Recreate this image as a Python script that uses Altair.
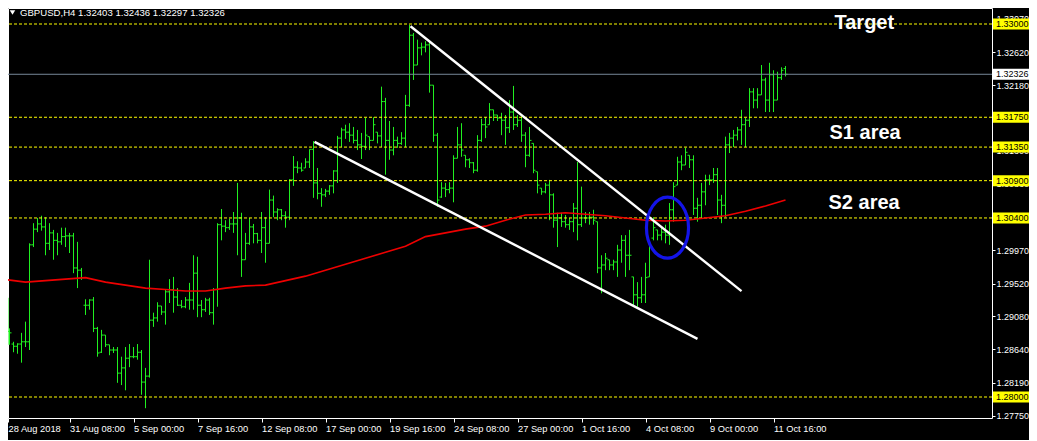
import json
import altair as alt
import pandas as pd

# ---------------- data (GBPUSD, H4 bars) ----------------
opens = [1.2879, 1.2888, 1.2871, 1.2868, 1.2871, 1.2874, 1.2874, 1.3004, 1.3025, 1.3032,
         1.3028, 1.3006, 1.3020, 1.3010, 1.3008, 1.3015, 1.3016, 1.3016, 1.2973, 1.2970,
         1.2923, 1.2923, 1.2930, 1.2892, 1.2860, 1.2883, 1.2870, 1.2863, 1.2863, 1.2832,
         1.2839, 1.2852, 1.2854, 1.2854, 1.2860, 1.2820, 1.2828, 1.2903, 1.2906, 1.2922,
         1.2914, 1.2941, 1.2944, 1.2934, 1.2923, 1.2921, 1.2930, 1.2930, 1.2966, 1.2923,
         1.2917, 1.2930, 1.2913, 1.2944, 1.3031, 1.3029, 1.3027, 1.3032, 1.3032, 1.3040,
         1.2984, 1.3006, 1.3028, 1.3019, 1.3010, 1.3027, 1.3006, 1.3064, 1.3048, 1.3051,
         1.3043, 1.3041, 1.3091, 1.3108, 1.3107, 1.3107, 1.3115, 1.3132, 1.3087, 1.3073,
         1.3071, 1.3076, 1.3083, 1.3103, 1.3147, 1.3158, 1.3155, 1.3151, 1.3144, 1.3138,
         1.3136, 1.3149, 1.3144, 1.3155, 1.3150, 1.3196, 1.3144, 1.3131, 1.3144, 1.3140,
         1.3147, 1.3191, 1.3285, 1.3245, 1.3268, 1.3269, 1.3272, 1.3218, 1.3151, 1.3068,
         1.3080, 1.3078, 1.3080, 1.3120, 1.3138, 1.3124, 1.3118, 1.3114, 1.3104, 1.3144,
         1.3165, 1.3165, 1.3185, 1.3178, 1.3174, 1.3171, 1.3161, 1.3182, 1.3165, 1.3171,
         1.3151, 1.3124, 1.3140, 1.3102, 1.3080, 1.3075, 1.3084, 1.3071, 1.3037, 1.3040,
         1.3035, 1.3031, 1.3035, 1.3053, 1.3031, 1.3040, 1.3040, 1.3041, 1.3035, 1.2973,
         1.2977, 1.2984, 1.2977, 1.2981, 1.2997, 1.3010, 1.2990, 1.2961, 1.2937, 1.2933,
         1.2937, 1.2961, 1.3013, 1.3024, 1.3017, 1.3021, 1.3017, 1.3051, 1.3084, 1.3115,
         1.3111, 1.3124, 1.3118, 1.3053, 1.3057, 1.3075, 1.3091, 1.3091, 1.3098, 1.3064,
         1.3057, 1.3138, 1.3147, 1.3151, 1.3158, 1.3165, 1.3171, 1.3209, 1.3198, 1.3205,
         1.3225, 1.3198, 1.3232, 1.3198, 1.3228, 1.32403]
highs = [1.2933, 1.2892, 1.2874, 1.2872, 1.2886, 1.2901, 1.3006, 1.3033, 1.3040, 1.3043,
         1.3041, 1.3033, 1.3024, 1.3020, 1.3027, 1.3027, 1.3020, 1.3020, 1.3008, 1.2973,
         1.2931, 1.2931, 1.2934, 1.2894, 1.2890, 1.2883, 1.2870, 1.2867, 1.2867, 1.2854,
         1.2867, 1.2871, 1.2867, 1.2871, 1.2863, 1.2839, 1.2984, 1.2913, 1.2927, 1.2922,
         1.2944, 1.2958, 1.2961, 1.2946, 1.2930, 1.2934, 1.2953, 1.2990, 1.2988, 1.2930,
         1.2933, 1.2933, 1.2946, 1.3033, 1.3052, 1.3037, 1.3039, 1.3048, 1.3087, 1.3047,
         1.3020, 1.3040, 1.3032, 1.3020, 1.3048, 1.3041, 1.3078, 1.3070, 1.3053, 1.3052,
         1.3049, 1.3092, 1.3123, 1.3116, 1.3114, 1.3120, 1.3132, 1.3143, 1.3107, 1.3080,
         1.3079, 1.3084, 1.3104, 1.3150, 1.3161, 1.3165, 1.3167, 1.3162, 1.3158, 1.3154,
         1.3174, 1.3149, 1.3175, 1.3155, 1.3216, 1.3201, 1.3170, 1.3162, 1.3149, 1.3155,
         1.3205, 1.3299, 1.3288, 1.3279, 1.3275, 1.3277, 1.3276, 1.3218, 1.3154, 1.3088,
         1.3087, 1.3088, 1.3124, 1.3162, 1.3167, 1.3124, 1.3120, 1.3115, 1.3151, 1.3173,
         1.3175, 1.3194, 1.3185, 1.3178, 1.3181, 1.3178, 1.3198, 1.3217, 1.3178, 1.3178,
         1.3155, 1.3162, 1.3140, 1.3102, 1.3080, 1.3087, 1.3091, 1.3073, 1.3047, 1.3047,
         1.3044, 1.3040, 1.3060, 1.3115, 1.3082, 1.3048, 1.3048, 1.3051, 1.3035, 1.2990,
         1.2993, 1.2984, 1.2984, 1.3004, 1.3017, 1.3017, 1.3024, 1.2961, 1.2954, 1.2961,
         1.2980, 1.3004, 1.3041, 1.3024, 1.3028, 1.3031, 1.3060, 1.3088, 1.3122, 1.3124,
         1.3134, 1.3124, 1.3124, 1.3067, 1.3087, 1.3098, 1.3098, 1.3107, 1.3107, 1.3071,
         1.3149, 1.3154, 1.3158, 1.3162, 1.3185, 1.3174, 1.3214, 1.3214, 1.3214, 1.3245,
         1.3228, 1.3248, 1.3238, 1.3236, 1.3242, 1.32436]
lows = [1.2870, 1.2870, 1.2860, 1.2858, 1.2846, 1.2867, 1.2863, 1.3001, 1.3021, 1.3023,
        1.2990, 1.2997, 1.2984, 1.2990, 1.3004, 1.3001, 1.2993, 1.2966, 1.2946, 1.2957,
        1.2910, 1.2917, 1.2887, 1.2854, 1.2859, 1.2867, 1.2856, 1.2859, 1.2819, 1.2816,
        1.2809, 1.2840, 1.2852, 1.2850, 1.2803, 1.2785, 1.2826, 1.2894, 1.2901, 1.2910,
        1.2897, 1.2926, 1.2913, 1.2922, 1.2919, 1.2919, 1.2917, 1.2917, 1.2907, 1.2907,
        1.2914, 1.2910, 1.2897, 1.2921, 1.3010, 1.3021, 1.3024, 1.3020, 1.2990, 1.2961,
        1.2984, 1.3004, 1.3006, 1.3006, 1.2993, 1.2980, 1.3006, 1.3041, 1.3037, 1.3037,
        1.3027, 1.3037, 1.3083, 1.3100, 1.3102, 1.3107, 1.3107, 1.3067, 1.3065, 1.3055,
        1.3068, 1.3071, 1.3073, 1.3087, 1.3135, 1.3146, 1.3142, 1.3140, 1.3131, 1.3119,
        1.3131, 1.3131, 1.3144, 1.3140, 1.3135, 1.3098, 1.3118, 1.3124, 1.3134, 1.3138,
        1.3135, 1.3189, 1.3225, 1.3245, 1.3258, 1.3262, 1.3208, 1.3142, 1.3055, 1.3067,
        1.3068, 1.3073, 1.3061, 1.3120, 1.3122, 1.3108, 1.3107, 1.3100, 1.3102, 1.3142,
        1.3147, 1.3165, 1.3170, 1.3170, 1.3151, 1.3138, 1.3154, 1.3158, 1.3162, 1.3142,
        1.3108, 1.3122, 1.3100, 1.3073, 1.3071, 1.3073, 1.3037, 1.3027, 1.3001, 1.3028,
        1.3027, 1.3024, 1.3021, 1.3010, 1.3028, 1.3033, 1.3031, 1.3031, 1.2966, 1.2939,
        1.2970, 1.2970, 1.2970, 1.2961, 1.2980, 1.2961, 1.2970, 1.2923, 1.2921, 1.2926,
        1.2926, 1.2961, 1.3010, 1.3010, 1.3010, 1.3006, 1.3004, 1.3035, 1.3084, 1.3104,
        1.3111, 1.3107, 1.3044, 1.3035, 1.3040, 1.3057, 1.3084, 1.3087, 1.3044, 1.3033,
        1.3041, 1.3127, 1.3135, 1.3144, 1.3138, 1.3135, 1.3162, 1.3187, 1.3187, 1.3205,
        1.3182, 1.3182, 1.3182, 1.3198, 1.3225, 1.32297]
closes = [1.2888, 1.2886, 1.2868, 1.2871, 1.2874, 1.2874, 1.3004, 1.3025, 1.3032, 1.3028,
          1.3006, 1.3020, 1.3010, 1.3008, 1.3015, 1.3016, 1.3016, 1.2973, 1.2970, 1.2960,
          1.2923, 1.2930, 1.2892, 1.2859, 1.2883, 1.2870, 1.2863, 1.2863, 1.2832, 1.2839,
          1.2852, 1.2854, 1.2854, 1.2860, 1.2820, 1.2828, 1.2903, 1.2906, 1.2922, 1.2914,
          1.2941, 1.2944, 1.2934, 1.2923, 1.2921, 1.2930, 1.2930, 1.2966, 1.2923, 1.2917,
          1.2930, 1.2913, 1.2944, 1.3031, 1.3029, 1.3027, 1.3032, 1.3032, 1.3040, 1.2984,
          1.3006, 1.3028, 1.3019, 1.3010, 1.3027, 1.3006, 1.3064, 1.3048, 1.3051, 1.3043,
          1.3041, 1.3091, 1.3108, 1.3107, 1.3104, 1.3115, 1.3132, 1.3087, 1.3073, 1.3071,
          1.3076, 1.3083, 1.3103, 1.3147, 1.3158, 1.3155, 1.3151, 1.3144, 1.3138, 1.3136,
          1.3151, 1.3144, 1.3165, 1.3150, 1.3196, 1.3144, 1.3131, 1.3144, 1.3140, 1.3147,
          1.3191, 1.3285, 1.3245, 1.3268, 1.3269, 1.3272, 1.3218, 1.3151, 1.3064, 1.3080,
          1.3078, 1.3080, 1.3120, 1.3138, 1.3131, 1.3118, 1.3114, 1.3104, 1.3144, 1.3165,
          1.3162, 1.3185, 1.3178, 1.3174, 1.3171, 1.3161, 1.3182, 1.3165, 1.3171, 1.3151,
          1.3124, 1.3144, 1.3104, 1.3084, 1.3075, 1.3084, 1.3071, 1.3037, 1.3040, 1.3035,
          1.3031, 1.3035, 1.3053, 1.3031, 1.3040, 1.3040, 1.3041, 1.3037, 1.2973, 1.2977,
          1.2986, 1.2977, 1.2981, 1.2997, 1.3010, 1.2990, 1.2990, 1.2937, 1.2933, 1.2937,
          1.2960, 1.3001, 1.3027, 1.3017, 1.3021, 1.3017, 1.3051, 1.3082, 1.3115, 1.3111,
          1.3128, 1.3118, 1.3053, 1.3057, 1.3075, 1.3091, 1.3091, 1.3098, 1.3064, 1.3057,
          1.3138, 1.3147, 1.3151, 1.3158, 1.3165, 1.3171, 1.3209, 1.3198, 1.3205, 1.3225,
          1.3198, 1.3232, 1.3198, 1.3228, 1.3238, 1.32326]

# moving average read every 5 bars
ma_index = [0, 5, 10, 15, 20, 25, 30, 35, 40, 45, 50, 55, 60, 65, 70, 75, 80, 85, 90, 95,
            100, 105, 110, 115, 120, 125, 130, 135, 140, 145, 150, 155, 160, 165, 170, 175,
            180, 185, 190, 195]
ma_values = [1.2957, 1.2954, 1.2956, 1.2958, 1.2960, 1.2954, 1.2950, 1.2946, 1.2944, 1.2942,
             1.2942, 1.2946, 1.2949, 1.2950, 1.2956, 1.2962, 1.2970, 1.2978, 1.2986, 1.2994,
             1.3002, 1.3015, 1.3020, 1.3025, 1.3029, 1.3037, 1.3044, 1.3045, 1.3047, 1.3045,
             1.3043, 1.3040, 1.3037, 1.3036, 1.3037, 1.3040, 1.3043, 1.3049, 1.3056, 1.3064]

x_tick_index = [0, 16, 32, 48, 64, 80, 96, 112, 128, 144, 160, 176, 192]
x_tick_labels = ["28 Aug 2018", "31 Aug 08:00", "5 Sep 00:00", "7 Sep 16:00", "12 Sep 08:00",
                 "17 Sep 00:00", "19 Sep 16:00", "24 Sep 08:00", "27 Sep 00:00", "1 Oct 16:00",
                 "4 Oct 08:00", "9 Oct 00:00", "11 Oct 16:00"]
# price-scale labels visible in the picture (the others sit under the level boxes)
y_tick_values = [1.27750, 1.28190, 1.28640, 1.29080, 1.29520, 1.29970, 1.30860,
                 1.31300, 1.32180, 1.32620, 1.33070]

levels = [1.33000, 1.31750, 1.31350, 1.30900, 1.30400, 1.28000]
current_price = 1.32326

trend_x_start = [101.25, 77.25]
trend_x_end = [184.0, 173.0]
trend_p_start = [1.3297, 1.3142]
trend_p_end = [1.2942, 1.2878]

ellipse_x = [165.5]
ellipse_p = [1.3027]

note_texts = ["Target", "S1 area", "S2 area"]
note_x = [207.25, 206.0, 205.75]
note_p = [1.3293, 1.3146, 1.3052]

symbol, timeframe = "GBPUSD", "H4"

# ---------------- styling ----------------
W, H = 984, 410
BAR = "#20f020"
FONT = "Liberation Sans"
LBL = 9

xs = alt.Scale(domain=[0.625, 246.625], clamp=True, nice=False, zero=False)
ys = alt.Scale(domain=[1.277185, 1.3321448], nice=False, zero=False)

label_expr = f"{json.dumps(x_tick_labels)}[indexof({json.dumps(x_tick_index)}, datum.value)]"

x_axis = alt.Axis(values=x_tick_index, labelExpr=label_expr, labelAlign="left",
                  labelBaseline="top", labelPadding=2, tickSize=4, tickColor="white",
                  labelColor="white", domain=False, grid=False, labelFlush=False,
                  labelOverlap=False, title=None, labelFont=FONT, labelFontSize=9.3,
                  labelBound=False)
y_axis = alt.Axis(orient="right", values=y_tick_values, format=".5f", labelColor="white",
                  tickColor="white", tickSize=3, labelPadding=1, domain=False, grid=False,
                  labelFont=FONT, labelFontSize=LBL, labelOverlap=False, labelFlush=False,
                  labelBaseline="middle", title=None, zindex=0, labelBound=False)


def X(field):
    return alt.X(field, type="quantitative", scale=xs, axis=x_axis)


def Y(field):
    return alt.Y(field, type="quantitative", scale=ys, axis=y_axis)


n = len(opens)
bars = pd.DataFrame({
    "idx": list(range(n)), "open": opens, "high": highs, "low": lows, "close": closes,
})
bars["xl"] = bars["idx"] - 0.5
bars["xr"] = bars["idx"] + 0.5

wicks = alt.Chart(bars).mark_rule(color=BAR, strokeWidth=1).encode(
    x=X("idx"), y=Y("low"), y2="high:Q",
)
open_ticks = alt.Chart(bars).mark_rule(color=BAR, strokeWidth=1).encode(
    x=X("xl"), x2="idx:Q", y=Y("open"),
)
close_ticks = alt.Chart(bars).mark_rule(color=BAR, strokeWidth=1).encode(
    x=X("idx"), x2="xr:Q", y=Y("close"),
)

ma = alt.Chart(pd.DataFrame({"idx": ma_index, "ma": ma_values})).mark_line(
    color="#ee0000", strokeWidth=1.6
).encode(x=X("idx"), y=Y("ma"))

lv = pd.DataFrame({"level": levels})
level_lines = alt.Chart(lv).mark_rule(color="#ffff00", strokeWidth=1, strokeDash=[3, 2]).encode(
    y=Y("level")
)
cp = pd.DataFrame({"level": [current_price]})
price_line = alt.Chart(cp).mark_rule(color="#778899", strokeWidth=1).encode(y=Y("level"))

tl = pd.DataFrame({"x1": trend_x_start, "x2": trend_x_end, "p1": trend_p_start, "p2": trend_p_end})
trend = alt.Chart(tl).mark_rule(color="white", strokeWidth=2.4).encode(
    x=X("x1"), x2="x2:Q", y=Y("p1"), y2="p2:Q",
)

ellipse_path = ("M 0 -1 C 0.381 -1 0.69 -0.5523 0.69 0 C 0.69 0.5523 0.381 1 0 1 "
                "C -0.381 1 -0.69 0.5523 -0.69 0 C -0.69 -0.5523 -0.381 -1 0 -1 Z")
ellipse = alt.Chart(pd.DataFrame({"x": ellipse_x, "p": ellipse_p})).mark_point(
    shape=ellipse_path, size=61 * 61, filled=False, stroke="#1414e8", strokeWidth=3.2, opacity=1
).encode(x=X("x"), y=Y("p"))

notes = alt.Chart(pd.DataFrame({"t": note_texts, "x": note_x, "p": note_p})).mark_text(
    color="white", font=FONT, fontSize=20, fontWeight="bold", align="left", baseline="alphabetic"
).encode(x=X("x"), y=Y("p"), text="t:N")

# label boxes on the right price scale (36 x 11 px)
box_path = "M -1 -0.3056 H 1 V 0.3056 H -1 Z"
BOX_C = 1003
level_boxes = alt.Chart(lv).mark_point(
    shape=box_path, size=36 * 36, filled=True, color="#ffff00", opacity=1, strokeWidth=0
).encode(x=alt.value(BOX_C), y=Y("level"))
level_text = alt.Chart(lv).mark_text(
    color="black", font=FONT, fontSize=LBL, align="left", baseline="middle"
).encode(x=alt.value(988), y=Y("level"), text=alt.Text("level:Q", format=".5f"))
price_box = alt.Chart(cp).mark_point(
    shape=box_path, size=36 * 36, filled=True, color="white", opacity=1, strokeWidth=0
).encode(x=alt.value(BOX_C), y=Y("level"))
price_text = alt.Chart(cp).mark_text(
    color="black", font=FONT, fontSize=LBL, align="left", baseline="middle"
).encode(x=alt.value(988), y=Y("level"), text=alt.Text("level:Q", format=".5f"))

header_str = (f"{symbol},{timeframe}  {opens[-1]:.5f} {highs[-1]:.5f} "
              f"{lows[-1]:.5f} {closes[-1]:.5f}")
one = pd.DataFrame({"t": [header_str]})
header_tri = alt.Chart(one).mark_point(
    shape="triangle-down", filled=True, color="white", size=30, opacity=1
).encode(x=alt.value(4.5), y=alt.value(4.5))
header_text = alt.Chart(one).mark_text(
    color="white", font=FONT, fontSize=9.6, align="left", baseline="middle"
).encode(x=alt.value(12), y=alt.value(4.8), text="t:N")

chart = alt.layer(
    wicks, open_ticks, close_ticks, level_lines, price_line, ma, trend, ellipse, notes,
    level_boxes, level_text, price_box, price_text, header_tri, header_text,
).properties(
    width=W, height=H, background="black",
    autosize=alt.AutoSizeParams(type="none"),
    padding={"left": 0, "top": 0, "right": 37, "bottom": 22},
).configure_view(
    stroke="white", strokeWidth=1
)

chart.save("out.html", embed_options={"renderer": "svg", "actions": False})
